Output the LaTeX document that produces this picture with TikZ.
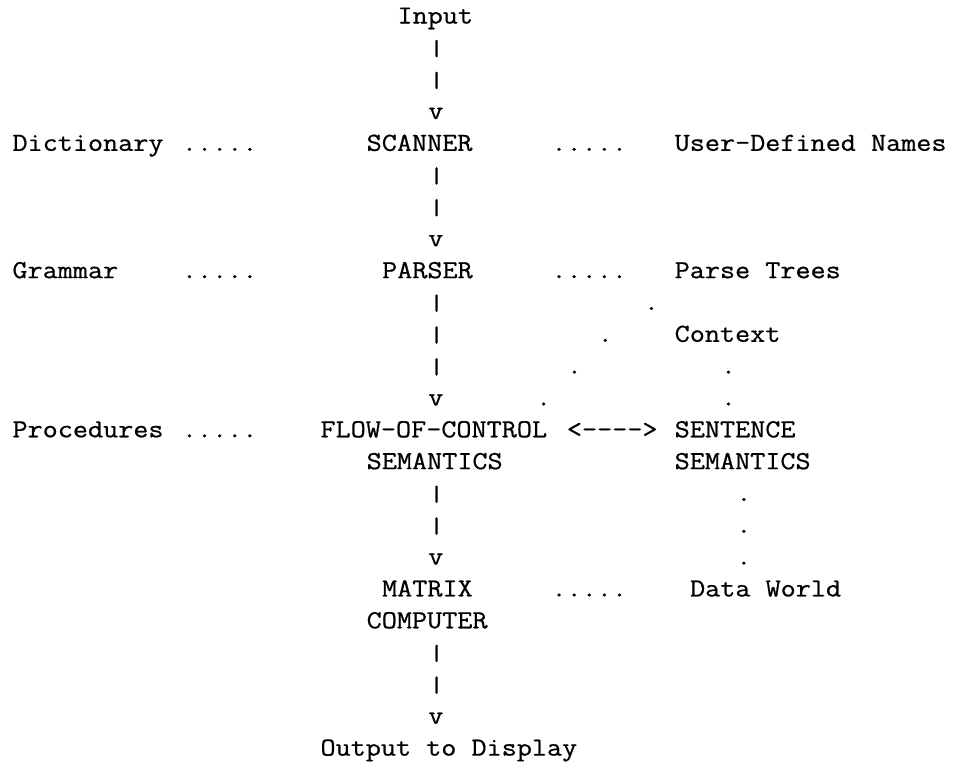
\documentclass[tikz,border=0pt]{standalone}
\usepackage{fontspec}
\usepackage{graphicx}
% serif typewriter face, widened to a 15.4pt character pitch
\newfontfamily\monofam{Latin Modern Mono}[FakeStretch=1.128, FakeBold=0.7]
% typewriter-style short vertical bar used in the flow lines
\newcommand\flowbar{\scalebox{1.1}[0.85]{|}}

\tikzset{
  txt/.style={anchor=base west, inner sep=0pt, outer sep=0pt,
    font=\monofam\fontsize{26pt}{31pt}\selectfont},
}

\begin{document}
\begin{tikzpicture}
\useasboundingbox (0pt,0pt) rectangle (953pt,-761pt);
% character grid: one unit = one monospaced column / one text line
\begin{scope}[shift={(12.5pt,-23.5pt)}, x=15.4pt, y=-31.83pt]
  % main pipeline
  \node[txt] (input)   at (25,0)  {Input};
  \node[txt] (b1)      at (27,1)  {\flowbar};
  \node[txt] (b2)      at (27,2)  {\flowbar};
  \node[txt] (v1)      at (27,3)  {v};
  \node[txt] (scanner) at (23,4)  {SCANNER};
  \node[txt] (b3)      at (27,5)  {\flowbar};
  \node[txt] (b4)      at (27,6)  {\flowbar};
  \node[txt] (v2)      at (27,7)  {v};
  \node[txt] (parser)  at (24,8)  {PARSER};
  \node[txt] (b5)      at (27,9)  {\flowbar};
  \node[txt] (b6)      at (27,10) {\flowbar};
  \node[txt] (b7)      at (27,11) {\flowbar};
  \node[txt] (v3)      at (27,12) {v};
  \node[txt] (flow)    at (20,13) {FLOW-OF-CONTROL};
  \node[txt] (flowsem) at (23,14) {SEMANTICS};
  \node[txt] (b8)      at (27,15) {\flowbar};
  \node[txt] (b9)      at (27,16) {\flowbar};
  \node[txt] (v4)      at (27,17) {v};
  \node[txt] (matrix)  at (24,18) {MATRIX};
  \node[txt] (computer)at (23,19) {COMPUTER};
  \node[txt] (b10)     at (27,20) {\flowbar};
  \node[txt] (b11)     at (27,21) {\flowbar};
  \node[txt] (v5)      at (27,22) {v};
  \node[txt] (output)  at (20,23) {Output to Display};

  % knowledge sources on the left
  \node[txt] (dict)    at (0,4)   {Dictionary};
  \node[txt] (ldots1)  at (11,4)  {.....};
  \node[txt] (grammar) at (0,8)   {Grammar};
  \node[txt] (ldots2)  at (11,8)  {.....};
  \node[txt] (proc)    at (0,13)  {Procedures};
  \node[txt] (ldots3)  at (11,13) {.....};

  % data structures on the right
  \node[txt] (rdots1)  at (35,4)  {.....};
  \node[txt] (names)   at (43,4)  {User-Defined Names};
  \node[txt] (rdots2)  at (35,8)  {.....};
  \node[txt] (trees)   at (43,8)  {Parse Trees};
  \node[txt] (context) at (43,10) {Context};
  \node[txt] (link)    at (36,13) {<---->};
  \node[txt] (sent)    at (43,13) {SENTENCE};
  \node[txt] (sentsem) at (43,14) {SEMANTICS};
  \node[txt] (rdots3)  at (35,18) {.....};
  \node[txt] (world)   at (44,18) {Data World};

  % diagonal dotted trail from the parse trees down to the flow box
  \node[txt] (d1) at (41,9)  {.};
  \node[txt] (d2) at (38,10) {.};
  \node[txt] (d3) at (36,11) {.};
  \node[txt] (d4) at (34,12) {.};
  % dotted trail from context to sentence semantics
  \node[txt] (c1) at (46,11) {.};
  \node[txt] (c2) at (46,12) {.};
  % dotted trail from sentence semantics to the data world
  \node[txt] (w1) at (47,15) {.};
  \node[txt] (w2) at (47,16) {.};
  \node[txt] (w3) at (47,17) {.};
\end{scope}
\end{tikzpicture}
\end{document}
